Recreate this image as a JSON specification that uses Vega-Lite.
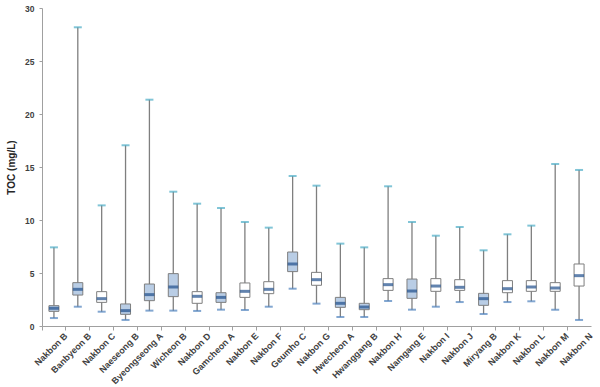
{
  "$schema": "https://vega.github.io/schema/vega-lite/v6.json",
  "width": 549,
  "height": 318,
  "autosize": {"type": "none"},
  "padding": {"left": 42, "top": 8, "right": 9, "bottom": 61},
  "background": "white",
  "config": {"view": {"stroke": null}, "font": "Liberation Sans"},
  "data": {"values": [
    {"site": "Nakbon B", "type": "trib", "min": 0.75, "q1": 1.38, "median": 1.67, "q3": 1.92, "max": 7.42},
    {"site": "Banbyeon B", "type": "trib", "min": 1.82, "q1": 2.92, "median": 3.46, "q3": 4.09, "max": 28.18},
    {"site": "Nakbon C", "type": "main", "min": 1.35, "q1": 2.23, "median": 2.58, "q3": 3.24, "max": 11.38},
    {"site": "Naeseong B", "type": "trib", "min": 0.57, "q1": 1.1, "median": 1.45, "q3": 2.08, "max": 17.05},
    {"site": "Byeongseong A", "type": "trib", "min": 1.45, "q1": 2.39, "median": 2.96, "q3": 3.96, "max": 21.35},
    {"site": "Wicheon B", "type": "trib", "min": 1.45, "q1": 2.77, "median": 3.68, "q3": 4.94, "max": 12.67},
    {"site": "Nakbon D", "type": "main", "min": 1.42, "q1": 2.14, "median": 2.8, "q3": 3.24, "max": 11.54},
    {"site": "Gamcheon A", "type": "trib", "min": 1.54, "q1": 2.23, "median": 2.7, "q3": 3.14, "max": 11.13},
    {"site": "Nakbon E", "type": "main", "min": 1.51, "q1": 2.7, "median": 3.27, "q3": 4.06, "max": 9.81},
    {"site": "Nakbon F", "type": "main", "min": 1.82, "q1": 3.05, "median": 3.46, "q3": 4.18, "max": 9.28},
    {"site": "Geumho C", "type": "trib", "min": 3.52, "q1": 5.13, "median": 5.85, "q3": 6.98, "max": 14.15},
    {"site": "Nakbon G", "type": "main", "min": 2.11, "q1": 3.84, "median": 4.37, "q3": 5.06, "max": 13.24},
    {"site": "Hwecheon A", "type": "trib", "min": 0.85, "q1": 1.76, "median": 2.14, "q3": 2.7, "max": 7.77},
    {"site": "Hwanggang B", "type": "trib", "min": 0.85, "q1": 1.54, "median": 1.79, "q3": 2.14, "max": 7.42},
    {"site": "Nakbon H", "type": "main", "min": 2.36, "q1": 3.36, "median": 3.9, "q3": 4.47, "max": 13.18},
    {"site": "Namgang E", "type": "trib", "min": 1.54, "q1": 2.61, "median": 3.3, "q3": 4.43, "max": 9.81},
    {"site": "Nakbon I", "type": "main", "min": 1.82, "q1": 3.27, "median": 3.77, "q3": 4.47, "max": 8.52},
    {"site": "Nakbon J", "type": "main", "min": 2.26, "q1": 3.36, "median": 3.65, "q3": 4.37, "max": 9.34},
    {"site": "Miryang B", "type": "trib", "min": 1.13, "q1": 1.95, "median": 2.58, "q3": 3.08, "max": 7.14},
    {"site": "Nakbon K", "type": "main", "min": 2.26, "q1": 3.14, "median": 3.52, "q3": 4.28, "max": 8.65},
    {"site": "Nakbon L", "type": "main", "min": 2.33, "q1": 3.27, "median": 3.68, "q3": 4.28, "max": 9.47},
    {"site": "Nakbon M", "type": "main", "min": 1.54, "q1": 3.27, "median": 3.58, "q3": 4.09, "max": 15.28},
    {"site": "Nakbon N", "type": "main", "min": 0.57, "q1": 3.77, "median": 4.75, "q3": 5.85, "max": 14.72}
  ]},
  "encoding": {
    "x": {
      "field": "site", "type": "nominal", "sort": null,
      "scale": {"paddingInner": 0, "paddingOuter": 0},
      "axis": {
        "title": null, "labelAngle": -45, "labelAlign": "right", "labelBaseline": "middle",
        "labelFont": "Liberation Sans", "labelFontSize": 9, "labelFontWeight": "bold", "labelColor": "#404040",
        "bandPosition": 0, "labelOffset": 12, "labelPadding": 4,
        "domainColor": "#a0a0a0", "tickColor": "#a0a0a0", "tickSize": 4
      }
    }
  },
  "layer": [
    {
      "mark": {"type": "rule", "color": "#7f7f7f", "strokeWidth": 1.3},
      "encoding": {
        "y": {"field": "min", "type": "quantitative", "scale": {"domain": [0, 30]},
          "axis": {
            "title": "TOC (mg/L)", "titleFont": "Liberation Sans", "titleFontSize": 10, "titleFontWeight": "bold", "titleColor": "#262626", "titlePadding": 8,
            "values": [0, 5, 10, 15, 20, 25, 30], "grid": false,
            "labelFont": "Liberation Sans", "labelFontSize": 8.5, "labelFontWeight": "bold", "labelColor": "#404040",
            "domainColor": "#a0a0a0", "tickColor": "#a0a0a0", "tickSize": 3, "labelPadding": 5
          }},
        "y2": {"field": "max"}
      }
    },
    {
      "mark": {"type": "bar", "size": 10, "stroke": "#7f7f7f", "strokeWidth": 1},
      "encoding": {
        "y": {"field": "q1", "type": "quantitative"},
        "y2": {"field": "q3"},
        "fill": {"field": "type", "type": "nominal", "legend": null,
          "scale": {"domain": ["trib", "main"], "range": ["#b9cde5", "#ffffff"]}}
      }
    },
    {
      "mark": {"type": "tick", "color": "#1f4e8c", "thickness": 3, "size": 10},
      "encoding": {"y": {"field": "median", "type": "quantitative"}}
    },
    {
      "mark": {"type": "tick", "color": "#4bacc6", "thickness": 2, "size": 8},
      "encoding": {"y": {"field": "max", "type": "quantitative"}}
    },
    {
      "mark": {"type": "tick", "color": "#4f81bd", "thickness": 2, "size": 8},
      "encoding": {"y": {"field": "min", "type": "quantitative"}}
    }
  ]
}
